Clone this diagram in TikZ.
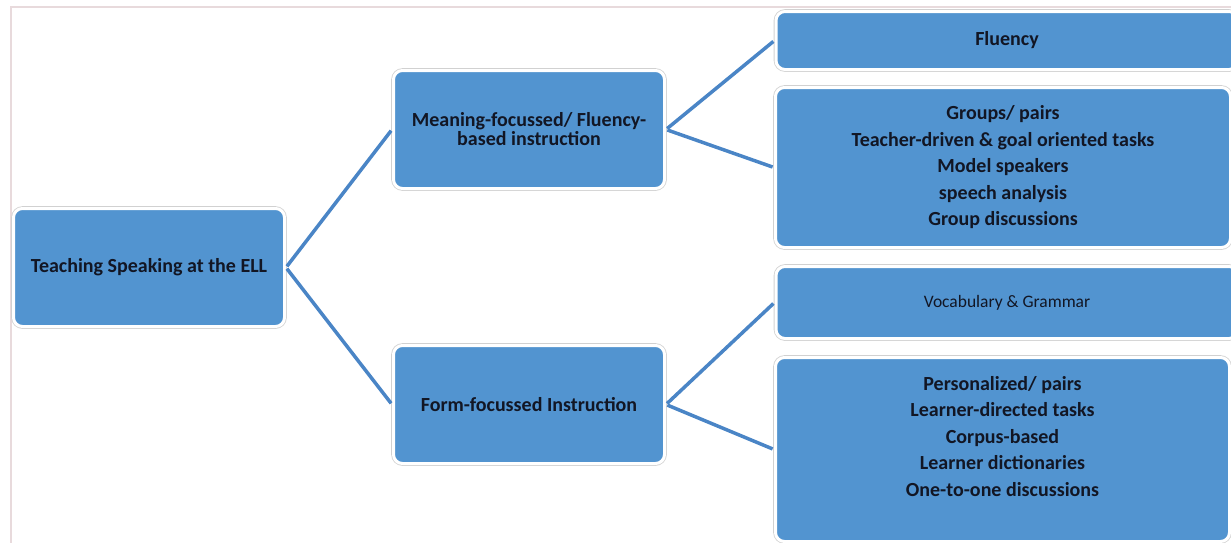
\documentclass[tikz,border=0pt]{standalone}
\usepackage{fontspec}
\setmainfont{Carlito}
\usetikzlibrary{positioning}
\definecolor{boxblue}{RGB}{82,148,208}
\definecolor{linkblue}{RGB}{74,133,198}
\definecolor{inktext}{RGB}{18,22,36}
\definecolor{framepink}{RGB}{232,218,220}

\begin{document}
\begin{tikzpicture}[x=1pt, y=-1pt,
  box/.style={rectangle, rounded corners=9pt, fill=boxblue, draw=white,
    line width=3pt, preaction={draw=black!18, line width=4.6pt},
    text=inktext, align=center, inner sep=0pt,
    font=\bfseries\fontsize{20}{26.5}\selectfont},
  link/.style={draw=linkblue, line width=3.5pt, shorten <=1.5pt, shorten >=1.5pt}]
  \useasboundingbox (0,0) rectangle (1231,542);

  % Frame
  \draw[framepink, line width=2.5pt] (11,548) -- (11,7) -- (1240,7);

  % Root
  \node[box, minimum width=271pt, minimum height=118pt] (root) at (149,267.5)
    {Teaching Speaking at the ELL};

  % Second level
  \node[box, minimum width=271pt, minimum height=118pt,
    font=\bfseries\fontsize{20}{19}\selectfont] (mean) at (529,129.5)
    {Meaning-focussed/ Fluency-\\based instruction};
  \node[box, minimum width=271pt, minimum height=118pt] (form) at (529,404.5)
    {Form-focussed Instruction};

  % Third level
  \node[box, minimum width=462pt, minimum height=58pt] (flu) at (1007,40.5)
    {Fluency};
  \node[box, minimum width=455pt, minimum height=160pt] (grp) at (1003,167.5)
    {Groups/ pairs\\Teacher-driven \& goal oriented tasks\\Model speakers\\
     speech analysis\\Group discussions};
  \node[box, minimum width=462pt, minimum height=72pt,
    font=\fontsize{17.5}{20}\selectfont] (voc) at (1007,302.5)
    {Vocabulary \& Grammar};
  \node[box, minimum width=454pt, minimum height=184pt] (pers) at (1002.5,449.5)
    {Personalized/ pairs\\Learner-directed tasks\\Corpus-based\\
     Learner dictionaries\\One-to-one discussions\\~};

  % Connectors
  \draw[link] (root.east) -- (mean.west);
  \draw[link] (root.east) -- (form.west);
  \draw[link] (mean.east) -- (flu.west);
  \draw[link] (mean.east) -- (grp.west);
  \draw[link] (form.east) -- (voc.west);
  \draw[link] (form.east) -- (pers.west);
\end{tikzpicture}
\end{document}
